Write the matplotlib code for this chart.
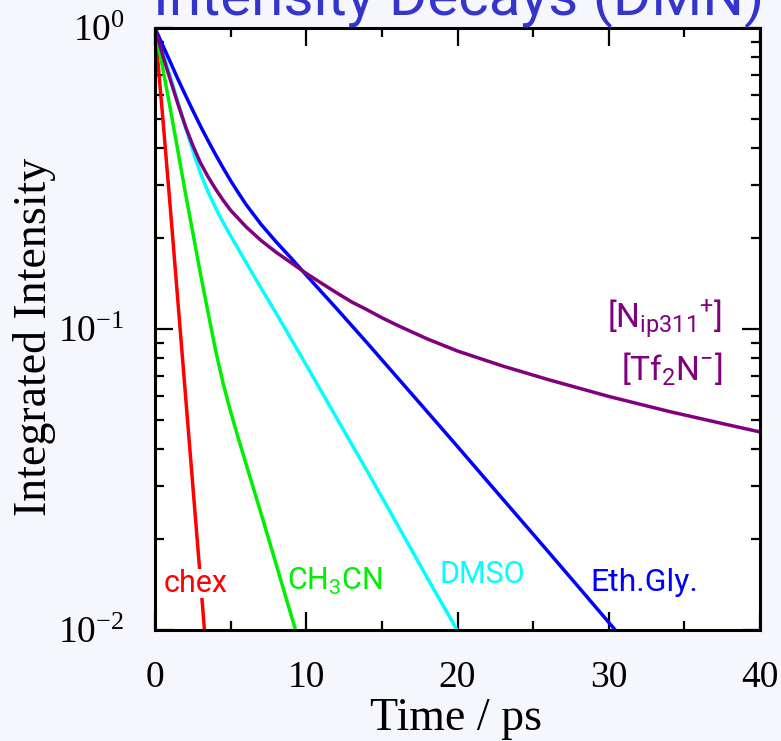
import matplotlib
matplotlib.use("Agg")
import matplotlib.pyplot as plt

plt.rcParams["mathtext.fontset"] = "custom"
plt.rcParams["mathtext.rm"] = "Liberation Serif"
plt.rcParams["mathtext.sf"] = "Roboto"

# decay curves (time in ps, normalised integrated intensity)
t_chex = [0, 0.5, 1, 1.5, 2, 2.5, 3, 3.3]
i_chex = [1, 0.513, 0.257, 0.126, 0.0617, 0.0302, 0.0148, 0.00955]

t_acn = [0, 0.5, 1, 1.5, 2, 2.5, 3, 3.5, 4, 4.5, 5, 5.5, 6, 7, 8, 9, 9.4]
i_acn = [1, 0.741, 0.543, 0.394, 0.285, 0.209, 0.153, 0.114, 0.0851, 0.0661,
         0.0531, 0.0435, 0.0359, 0.0245, 0.0166, 0.0112, 0.0096]

t_dmso = [0, 0.5, 1, 1.5, 2, 2.5, 3, 3.5, 4, 4.5, 5, 6, 7, 8, 10, 12, 14, 16, 18, 20.2]
i_dmso = [1, 0.832, 0.692, 0.571, 0.471, 0.391, 0.330, 0.286, 0.253, 0.226,
          0.204, 0.167, 0.137, 0.113, 0.0759, 0.0507, 0.0339, 0.0225, 0.0149, 0.00955]

t_eg = [0, 0.5, 1, 1.5, 2, 2.5, 3, 3.5, 4, 4.5, 5, 5.5, 6, 7, 8, 9, 10, 12, 14,
        16, 18, 20, 22, 24, 26, 28, 30, 31]
i_eg = [1, 0.879, 0.773, 0.679, 0.600, 0.532, 0.473, 0.423, 0.380, 0.343, 0.311,
        0.284, 0.260, 0.223, 0.195, 0.172, 0.151, 0.117, 0.0902, 0.0692, 0.0531,
        0.0407, 0.0311, 0.0238, 0.0182, 0.0139, 0.0106, 0.00925]

t_il = [0, 0.25, 0.5, 0.75, 1, 1.5, 2, 2.5, 3, 3.5, 4, 4.5, 5, 6, 7, 8, 9, 10, 11,
        12, 13, 14, 15, 16, 18, 20, 23, 26, 30, 34, 38, 40]
i_il = [1, 0.902, 0.817, 0.741, 0.676, 0.562, 0.473, 0.407, 0.357, 0.321, 0.292,
        0.268, 0.248, 0.219, 0.197, 0.180, 0.166, 0.153, 0.142, 0.132, 0.123, 0.116,
        0.109, 0.103, 0.0927, 0.0845, 0.0753, 0.0679, 0.0597, 0.0532, 0.0479, 0.0455]

xticks = [0, 10, 20, 30, 40]
yticks = [0.01, 0.1, 1]
ytick_labels = [r"$\mathrm{10^{-2}}$", r"$\mathrm{10^{-1}}$", r"$\mathrm{10^{0}}$"]

serif = "Liberation Serif"
sans = "Roboto"

fig = plt.figure(figsize=(7.81, 7.41), dpi=100, facecolor="#f6f7fd")
ax = fig.add_axes([155 / 781, 111 / 741, 605 / 781, 602 / 741])
ax.set_facecolor("white")

lw = 2.5
ax.plot(t_chex, i_chex, color="#ff0000", lw=lw)
ax.plot(t_acn, i_acn, color="#00ee00", lw=lw)
ax.plot(t_dmso, i_dmso, color="#00ffff", lw=lw)
ax.plot(t_eg, i_eg, color="#0000ff", lw=lw)
ax.plot(t_il, i_il, color="#800080", lw=lw)

ax.set_yscale("log")
ax.set_xlim(0, 40)
ax.set_ylim(0.01, 1)
ax.set_xticks(xticks)
ax.set_xticks([5, 15, 25, 35], minor=True)
ax.set_xticklabels([str(v) for v in xticks])
ax.set_yticks(yticks, labels=ytick_labels)

for s in ax.spines.values():
    s.set_linewidth(2.2)
ax.tick_params(which="both", direction="in", top=True, right=True, width=1.6, color="black")
ax.tick_params(which="major", length=13, pad=22, labelsize=27)
ax.tick_params(which="minor", length=6.5)
for lab in ax.get_xticklabels() + ax.get_yticklabels():
    lab.set_fontfamily(serif)

fig.text(456 / 781, (741 - 730) / 741, "Time / ps", family=serif, fontsize=33,
         ha="center", va="baseline")
fig.text(35 / 781, 1 - 337 / 741, "Integrated Intensity", family=serif, fontsize=33,
         rotation=90, ha="center", va="center")
fig.text(459 / 781, (741 - 15) / 741, "Intensity Decays (DMN)", family=sans,
         fontsize=42, color="#3535cc", ha="center", va="baseline")

box = dict(facecolor="white", edgecolor="none", pad=0)
ax.text(0.6, 0.0134, "chex", color="#ff0000", family=sans, fontsize=22,
        va="baseline", bbox=box)
ax.text(8.73, 0.0136, r"CH$_{\mathsf{3}}$CN", color="#00ee00", family=sans,
        fontsize=22, va="baseline")
ax.text(18.84, 0.0143, "DMSO", color="#00ffff", family=sans, fontsize=22,
        va="baseline")
ax.text(28.76, 0.0135, "Eth.Gly.", color="#0000ff", family=sans, fontsize=23,
        va="baseline")
ax.text(37.5, 0.1016, r"[N$_{\mathsf{ip311}}$$^{\mathsf{+}}$]", color="#800080",
        family=sans, fontsize=24, ha="right", va="baseline")
ax.text(37.5, 0.0677, r"[Tf$_{\mathsf{2}}$N$^{\mathsf{-}}$]", color="#800080",
        family=sans, fontsize=24, ha="right", va="baseline")

fig.savefig("out.png", dpi=100, facecolor=fig.get_facecolor())
